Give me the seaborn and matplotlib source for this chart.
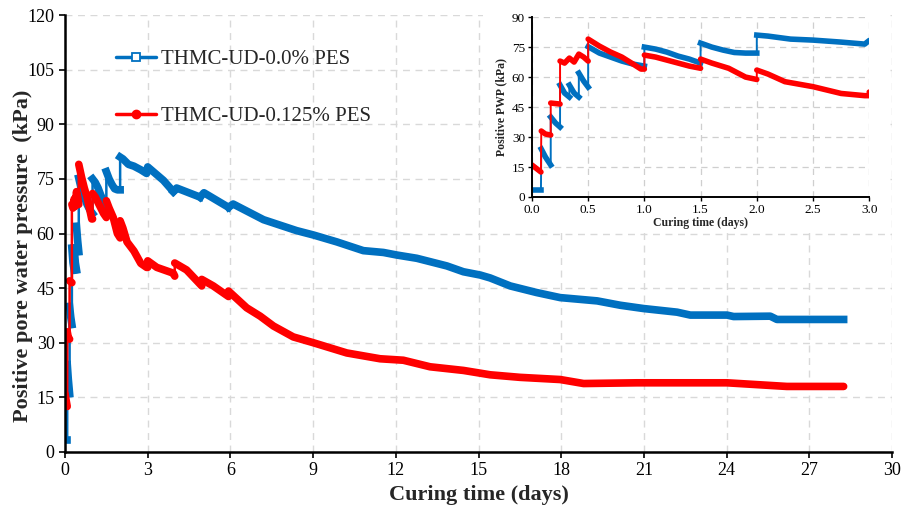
import numpy as np
import pandas as pd
import matplotlib
matplotlib.use("Agg")
import matplotlib.pyplot as plt
from matplotlib.lines import Line2D
from matplotlib.patches import Rectangle
import seaborn as sns

# Pore water pressure readings (curing time in days, PWP in kPa).
# A repeated time marks an instantaneous pressure jump.
t_plain = [0.0, 0.08, 0.083, 0.12, 0.167, 0.167, 0.21, 0.25, 0.25, 0.29, 0.333,
           0.333, 0.375, 0.417, 0.417, 0.46, 0.5, 0.5, 0.6, 0.7, 0.8, 0.9, 1.0,
           1.0, 1.1, 1.2, 1.3, 1.4, 1.5, 1.5, 1.6, 1.7, 1.8, 1.9, 2.0, 2.0, 2.1,
           2.3, 2.5, 2.75, 2.96, 3.0, 3.57, 3.93, 3.93, 4.05, 4.9, 4.9, 5.04,
           5.93, 5.93, 6.1, 7.2, 8.4, 9.01, 9.86, 10.82, 11.55, 12.03, 12.76,
           13.85, 14.45, 15.06, 15.42, 16.15, 17.1, 17.96, 19.3, 20.14, 20.98,
           22.2, 22.68, 24.01, 24.25, 25.58, 25.82, 28.24]
pwp_plain = [3.3, 3.3, 24.0, 20.0, 16.0, 40.0, 37.0, 35.0, 56.0, 52.0, 50.0,
             56.0, 52.0, 50.0, 62.0, 58.0, 55.0, 75.2, 72.0, 70.0, 68.0, 66.5,
             65.5, 75.0, 74.0, 72.5, 70.5, 69.0, 67.0, 77.0, 75.0, 73.5, 72.3,
             72.0, 72.0, 81.0, 80.5, 79.0, 78.5, 77.5, 76.5, 78.3, 74.6, 71.5,
             71.5, 72.5, 70.0, 70.0, 71.2, 67.2, 67.2, 68.1, 63.8, 60.8, 59.6,
             57.7, 55.3, 54.8, 54.1, 53.2, 51.1, 49.5, 48.6, 47.8, 45.6, 43.8,
             42.4, 41.5, 40.3, 39.4, 38.4, 37.6, 37.6, 37.2, 37.3, 36.4, 36.4]

t_pes = [0.0, 0.08, 0.083, 0.12, 0.167, 0.167, 0.25, 0.25, 0.29, 0.333, 0.375,
         0.417, 0.46, 0.5, 0.5, 0.6, 0.7, 0.8, 0.9, 0.97, 1.0, 1.0, 1.1, 1.2,
         1.3, 1.4, 1.5, 1.5, 1.6, 1.75, 1.9, 2.0, 2.0, 2.1, 2.25, 2.5, 2.75,
         2.96, 3.0, 3.0, 3.33, 3.93, 3.98, 3.98, 4.41, 4.96, 4.96, 5.38, 5.93,
         5.93, 6.59, 7.08, 7.56, 8.28, 9.01, 10.22, 11.43, 12.27, 13.24, 14.45,
         15.42, 16.5, 17.96, 18.81, 20.74, 24.01, 26.18, 28.24]
pwp_pes = [16.0, 12.5, 33.0, 31.5, 31.0, 47.0, 46.5, 68.0, 67.0, 69.5, 67.5,
           71.5, 70.0, 68.0, 79.0, 75.5, 72.5, 70.0, 66.5, 64.0, 64.0, 71.0,
           70.0, 68.5, 67.0, 65.5, 64.4, 69.0, 67.0, 64.4, 60.0, 58.8, 63.5,
           61.5, 57.7, 55.2, 51.8, 50.7, 50.7, 52.5, 50.7, 49.1, 48.3, 51.9,
           50.0, 45.6, 47.4, 45.6, 42.7, 44.2, 39.6, 37.3, 34.6, 31.6, 30.0,
           27.2, 25.6, 25.2, 23.4, 22.4, 21.2, 20.5, 19.9, 18.8, 19.0, 19.0,
           18.0, 18.0]

series_names = ["THMC-UD-0.0% PES", "THMC-UD-0.125% PES"]
x_ticks_main = list(range(0, 31, 3))
y_ticks_main = list(range(0, 121, 15))
x_ticks_inset = [0.0, 0.5, 1.0, 1.5, 2.0, 2.5, 3.0]
y_ticks_inset = list(range(0, 91, 15))

BLUE = "#0070C0"
RED = "#FF0000"
GRID = "#d9d9d9"


def frame(t, v):
    df = pd.DataFrame({"t": t, "v": v})
    jump = np.r_[False, np.diff(df["t"].values) < 0.005]
    df["seg"] = np.cumsum(jump)
    return df


d_plain = frame(t_plain, pwp_plain)
d_pes = frame(t_pes, pwp_pes)

sns.set_theme(style="white")
plt.rcParams["font.family"] = ["Liberation Serif", "DejaVu Serif"]
plt.rcParams["mathtext.fontset"] = "stix"

fig = plt.figure(figsize=(9.14, 5.11), dpi=100)
ax = fig.add_axes([0.0711, 0.1155, 0.905, 0.855])


def draw(axis, df, color, cap, lw_thick, lw_thin):
    # thin connectors (including the vertical jumps)
    sns.lineplot(data=df, x="t", y="v", sort=False, estimator=None, ax=axis,
                 color=color, lw=lw_thin, legend=False)
    # dense readings appear as a thick band between jumps
    sns.lineplot(data=df, x="t", y="v", units="seg", estimator=None, sort=False,
                 ax=axis, color=color, lw=lw_thick, legend=False,
                 solid_capstyle=cap, solid_joinstyle="round")


def style_axes(axis, xt, yt, xlim, ylim, tick_size, label_size, xlabel, ylabel):
    axis.set_xlim(*xlim)
    axis.set_ylim(*ylim)
    axis.set_xticks(xt)
    axis.set_yticks(yt)
    axis.grid(True, color=GRID, linestyle=(0, (5, 4)), linewidth=1.0)
    axis.set_axisbelow(True)
    for s in ("top", "right"):
        axis.spines[s].set_visible(False)
    for s in ("left", "bottom"):
        axis.spines[s].set_color("black")
        axis.spines[s].set_linewidth(1.8)
    axis.tick_params(axis="both", direction="out", length=4, width=1.2,
                     colors="black", labelsize=tick_size, left=True, bottom=True)
    axis.set_xlabel(xlabel, fontsize=label_size, fontweight="bold", labelpad=2)
    axis.set_ylabel(ylabel, fontsize=label_size, fontweight="bold", labelpad=4)


draw(ax, d_plain, BLUE, "projecting", 5.5, 1.8)
draw(ax, d_pes, RED, "round", 5.5, 1.8)
style_axes(ax, x_ticks_main, y_ticks_main, (0, 30), (0, 120), 13, 16,
           "Curing time (days)", "Positive pore water pressure  (kPa)")
ax.set_xticklabels([str(v) for v in x_ticks_main])
ax.xaxis.labelpad = 4
ax.yaxis.set_label_coords(-0.039, 0.45)

handles = [
    Line2D([], [], color=BLUE, lw=2.5, marker="s", ms=5.5, mfc="white",
           mec=BLUE, mew=1.3),
    Line2D([], [], color=RED, lw=2.5, marker="o", ms=6, mfc=RED, mec=RED),
]
ax.legend(handles, series_names, loc="upper left",
          bbox_to_anchor=(0.062, 0.921), frameon=False, fontsize=15,
          handlelength=1.9, handletextpad=0.25, labelspacing=1.8,
          borderpad=0, borderaxespad=0)

# white backdrop behind the inset so the main grid stays clear of it
ax.add_patch(Rectangle((483 / 914, 1 - 233 / 511), (890 - 483) / 914, 233 / 511,
                       transform=fig.transFigure, facecolor="white",
                       edgecolor="none", zorder=1))

ins = fig.add_axes([0.582, 0.6145, 0.369, 0.352])
draw(ins, d_plain, BLUE, "projecting", 4.0, 1.4)
draw(ins, d_pes, RED, "round", 4.0, 1.4)
style_axes(ins, x_ticks_inset, y_ticks_inset, (0, 3), (0, 90), 9.5, 8.5,
           "Curing time (days)", "Positive PWP (kPa)")
ins.set_xticklabels([f"{v:.1f}" for v in x_ticks_inset])
ins.grid(True, color="#cfcfcf", linestyle=(0, (5, 4)), linewidth=0.9)
for s in ("left", "bottom"):
    ins.spines[s].set_linewidth(1.4)
ins.tick_params(length=3, width=1.0, pad=2)
ins.xaxis.labelpad = 1
ins.yaxis.labelpad = 3

fig.savefig("out.png", dpi=100)
